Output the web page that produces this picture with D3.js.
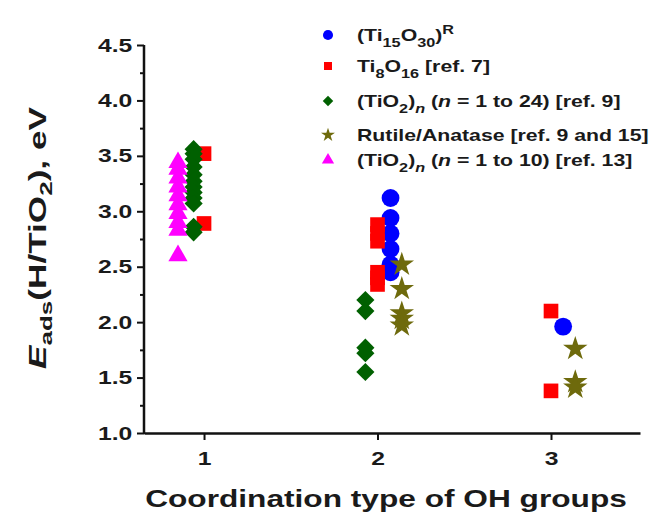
<!DOCTYPE html>
<html lang="en">
<head>
<meta charset="UTF-8">
<title>Eads vs coordination type</title>
<script src="https://d3js.org/d3.v7.min.js"></script>
<style>
  body { margin: 0; background: #fff; }
  text { font-family: "Liberation Sans", Arial, sans-serif; font-weight: bold; fill: #1a1a1a; }
</style>
</head>
<body>
<svg id="chart" width="649" height="517"></svg>
<script>
// series values: [x position, Eads in eV]
var ti15o30 = [[2.075, 3.12], [2.075, 2.94], [2.075, 2.80], [2.075, 2.66], [2.075, 2.52], [2.075, 2.45],
               [3.07, 1.96]];
var ti8o16 = [[1.0, 3.52], [1.0, 2.89],
              [2.0, 2.88], [2.0, 2.80], [2.0, 2.73], [2.0, 2.45], [2.0, 2.40], [2.0, 2.34],
              [3.0, 2.10], [3.0, 1.38]];
var tio2n24 = [[0.94, 3.56], [0.94, 3.52], [0.94, 3.47], [0.94, 3.40], [0.94, 3.33], [0.94, 3.27],
               [0.94, 3.22], [0.94, 3.17], [0.94, 3.12], [0.94, 3.07], [0.94, 2.86], [0.94, 2.81],
               [1.93, 2.20], [1.93, 2.10], [1.93, 1.77], [1.93, 1.72], [1.93, 1.55]];
var rutile = [[2.14, 2.52], [2.14, 2.30], [2.14, 2.08], [2.14, 2.03], [2.14, 1.97],
              [3.14, 1.76], [3.14, 1.46], [3.14, 1.41]];
var tio2n10 = [[0.85, 3.44], [0.85, 3.38], [0.85, 3.30], [0.85, 3.22], [0.85, 3.14], [0.85, 3.06],
               [0.85, 2.98], [0.85, 2.90], [0.85, 2.83], [0.85, 2.60]];

var xTicks = [1, 2, 3];
var yTicks = [1.0, 1.5, 2.0, 2.5, 3.0, 3.5, 4.0, 4.5];

var svg = d3.select("#chart");
var mLeft = 144, mRight = 640, mTop = 45, mBottom = 433;

var x = d3.scaleLinear().domain([0.654, 3.513]).range([mLeft, mRight]);
var y = d3.scaleLinear().domain([1.0, 4.5]).range([mBottom, mTop]);

// stretch a text horizontally (along its own direction) to a given length
function fitWidth(sel, target, base) {
  var w = sel.node().getComputedTextLength();
  sel.attr("transform", base + " scale(" + (target / w) + ",1)");
}

var series = [
  { data: ti15o30, color: "#0000ff", type: d3.symbolCircle, size: 250, legSize: 80, rot: 0 },
  { data: ti8o16, color: "#ff0000", type: d3.symbolSquare, size: 215, legSize: 64, rot: 0 },
  { data: tio2n24, color: "#006000", type: d3.symbolSquare, size: 165, legSize: 55, rot: 45 },
  { data: rutile, color: "#6e6a0c", type: d3.symbolStar, size: 185, legSize: 60, rot: 0 },
  { data: tio2n10, color: "#ff00ff", type: d3.symbolTriangle, size: 160, legSize: 65, rot: 0 }
];

series.forEach(function(s) {
  svg.append("g")
    .selectAll("path")
    .data(s.data)
    .enter()
    .append("path")
      .attr("d", d3.symbol().type(s.type).size(s.size))
      .attr("transform", function(d) {
        return "translate(" + x(d[0]) + "," + y(d[1]) + ") rotate(" + s.rot + ")";
      })
      .attr("fill", s.color);
});

// axes
var xAxis = svg.append("g")
  .attr("transform", "translate(0," + mBottom + ")")
  .call(d3.axisBottom(x).tickValues(xTicks).tickFormat(d3.format("d")).tickSize(7).tickSizeOuter(0).tickPadding(6));

var yMinor = svg.append("g")
  .attr("transform", "translate(" + mLeft + ",0)")
  .call(d3.axisLeft(y).tickValues(d3.range(1.25, 4.5, 0.5)).tickSize(4).tickFormat("").tickSizeOuter(0));
yMinor.select(".domain").remove();

var yAxis = svg.append("g")
  .attr("transform", "translate(" + mLeft + ",0)")
  .call(d3.axisLeft(y).tickValues(yTicks).tickFormat(d3.format(".1f")).tickSize(7).tickSizeOuter(0).tickPadding(5));

svg.selectAll(".domain").attr("stroke", "#111").attr("stroke-width", 2.5);
svg.selectAll(".tick line").attr("stroke", "#111").attr("stroke-width", 2);
svg.selectAll(".tick text")
  .style("font-size", "19px")
  .style("font-family", "Liberation Sans, Arial, sans-serif")
  .style("font-weight", "bold")
  .attr("fill", "#1a1a1a")
  .attr("transform", "scale(1.3,1)");
xAxis.selectAll(".tick text").attr("dy", "1.0em");
yAxis.selectAll(".tick text").attr("x", -9);
yAxis.select(".domain").attr("d", "M0," + (mBottom + 1) + "V" + mTop);

// axis titles
var xt = svg.append("text")
  .attr("text-anchor", "middle")
  .style("font-size", "24px")
  .text("Coordination type of OH groups");
fitWidth(xt, 482, "translate(386,507)");

var yt = svg.append("text")
  .attr("text-anchor", "middle")
  .style("font-size", "23px");
yt.append("tspan").style("font-style", "italic").text("E");
yt.append("tspan").attr("dy", 6).style("font-size", "17px").text("ads");
yt.append("tspan").attr("dy", -6).text("(H/TiO");
yt.append("tspan").attr("dy", 6).style("font-size", "17px").text("2");
yt.append("tspan").attr("dy", -6).text("), eV");
fitWidth(yt, 262, "translate(46,238) rotate(-90)");

// legend
var legX = 328, textX = 357;
var legRows = [35, 66, 101, 135, 160];
var leg = svg.append("g").style("font-size", "17px");

function addLabel(row, parts) {
  var t = leg.append("text");
  parts.forEach(function(p) {
    var ts = t.append("tspan").text(p.t);
    if (p.sub) ts.attr("dy", 6).style("font-size", "13px");
    if (p.sup) ts.attr("dy", -7).style("font-size", "13px");
    if (p.back) ts.attr("dy", p.back);
    if (p.it) ts.style("font-style", "italic");
  });
  t.attr("transform", "translate(" + textX + "," + (legRows[row] + 6) + ") scale(1.25,1)");
}

series.forEach(function(s, i) {
  leg.append("path")
    .attr("d", d3.symbol().type(s.type).size(s.legSize))
    .attr("transform", "translate(" + legX + "," + legRows[i] + ") rotate(" + s.rot + ")")
    .attr("fill", s.color);
});

addLabel(0, [{t: "(Ti"}, {t: "15", sub: true}, {t: "O", back: -6}, {t: "30", sub: true}, {t: ")", back: -6}, {t: "R", sup: true}]);
addLabel(1, [{t: "Ti"}, {t: "8", sub: true}, {t: "O", back: -6}, {t: "16", sub: true}, {t: " [ref. 7]", back: -6}]);
addLabel(2, [{t: "(TiO"}, {t: "2", sub: true}, {t: ")", back: -6}, {t: "n", sub: true, it: true}, {t: " (", back: -6}, {t: "n", it: true}, {t: " = 1 to 24) [ref. 9]"}]);
addLabel(3, [{t: "Rutile/Anatase [ref. 9 and 15]"}]);
addLabel(4, [{t: "(TiO"}, {t: "2", sub: true}, {t: ")", back: -6}, {t: "n", sub: true, it: true}, {t: " (", back: -6}, {t: "n", it: true}, {t: " = 1 to 10) [ref. 13]"}]);
</script>
</body>
</html>
